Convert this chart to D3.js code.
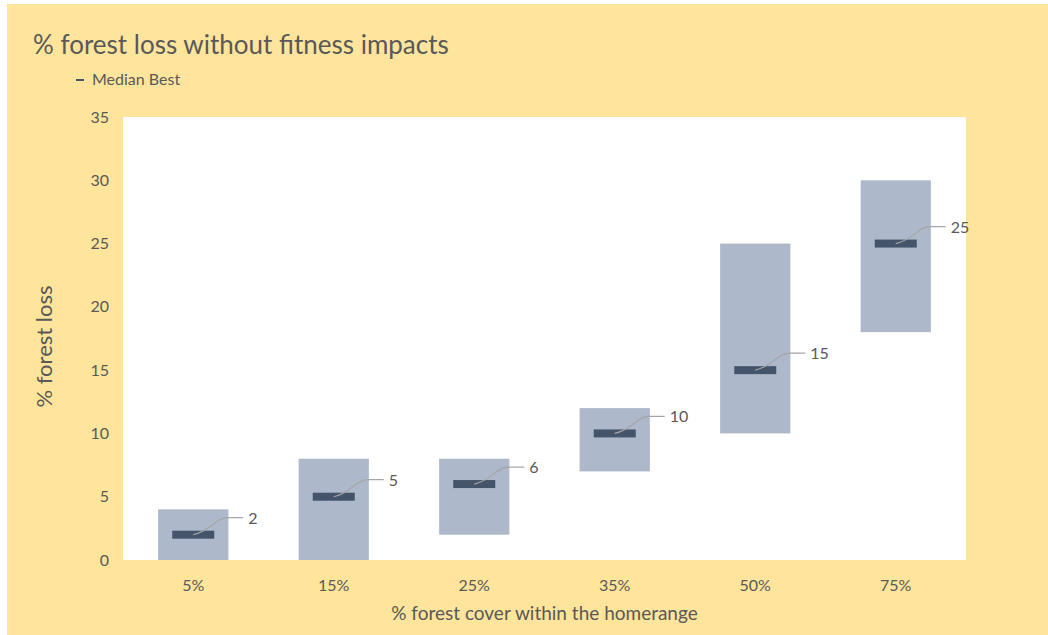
<!DOCTYPE html>
<html>
<head>
<meta charset="utf-8">
<script src="https://cdn.jsdelivr.net/npm/d3@7"></script>
<style>
  html, body { margin: 0; padding: 0; background: #ffffff; }
  svg { display: block; }
  text { font-family: Lato, "Open Sans", sans-serif; }
</style>
</head>
<body>
<svg id="chart" width="1048" height="635"></svg>
<script>
const categories = ["5%", "15%", "25%", "35%", "50%", "75%"];
const rangeLow   = [0, 0, 2, 7, 10, 18];
const rangeHigh  = [4, 8, 8, 12, 25, 30];
const medianBest = [2, 5, 6, 10, 15, 25];
const yTicks     = [0, 5, 10, 15, 20, 25, 30, 35];

const W = 1048, H = 635;
const svg = d3.select("#chart");
const textColor = "#595959";

// background
svg.append("rect").attr("x", 7).attr("y", 4).attr("width", W - 7).attr("height", H - 4).attr("fill", "#fee59b");

const plot = { left: 123, right: 966, top: 117, bottom: 560 };
svg.append("rect").attr("x", plot.left).attr("y", plot.top)
  .attr("width", plot.right - plot.left).attr("height", plot.bottom - plot.top).attr("fill", "#ffffff");

const x = d3.scaleBand().domain(categories).range([plot.left, plot.right]).paddingInner(0.5).paddingOuter(0.25);
const y = d3.scaleLinear().domain([0, 35]).range([plot.bottom, plot.top]);

// title
svg.append("text").attr("x", 33).attr("y", 54).attr("font-size", 26).attr("fill", textColor)
  .text("% forest loss without fitness impacts");

// legend
svg.append("line").attr("x1", 76).attr("x2", 84).attr("y1", 80).attr("y2", 80)
  .attr("stroke", "#44546a").attr("stroke-width", 2);
svg.append("text").attr("x", 92).attr("y", 85).attr("font-size", 16).attr("fill", textColor).text("Median Best");

// axes
const yAxis = d3.axisLeft(y).tickValues(yTicks).tickSize(0).tickPadding(14);
const gy = svg.append("g").attr("transform", `translate(${plot.left},0)`).call(yAxis);
gy.select(".domain").remove();
gy.selectAll("text").attr("font-size", 16).attr("fill", textColor).attr("font-family", "Lato, 'Open Sans', sans-serif");

const xAxis = d3.axisBottom(x).tickSize(0).tickPadding(20);
const gx = svg.append("g").attr("transform", `translate(0,${plot.bottom})`).call(xAxis);
gx.select(".domain").remove();
gx.selectAll("text").attr("font-size", 16).attr("fill", textColor).attr("font-family", "Lato, 'Open Sans', sans-serif");

// axis titles
svg.append("text").attr("x", (plot.left + plot.right) / 2).attr("y", 620).attr("text-anchor", "middle")
  .attr("font-size", 19).attr("fill", textColor).text("% forest cover within the homerange");
svg.append("text").attr("transform", `translate(52,${(plot.top + plot.bottom) / 2 + 8}) rotate(-90)`)
  .attr("text-anchor", "middle").attr("font-size", 22).attr("fill", textColor).text("% forest loss");

// range bars
const data = categories.map((c, i) => ({ c, lo: rangeLow[i], hi: rangeHigh[i], m: medianBest[i] }));
svg.append("g").selectAll("rect").data(data).join("rect")
  .attr("x", d => x(d.c)).attr("width", x.bandwidth())
  .attr("y", d => y(d.hi)).attr("height", d => y(d.lo) - y(d.hi))
  .attr("fill", "#adb9ca");

// median markers
const mw = 42, mh = 8;
svg.append("g").selectAll("rect").data(data).join("rect")
  .attr("x", d => x(d.c) + x.bandwidth() / 2 - mw / 2).attr("width", mw)
  .attr("y", d => y(d.m) - mh / 2).attr("height", mh)
  .attr("fill", "#44546a");

// leader lines + labels
const ldx = 50, ldy = -17;
const lg = svg.append("g");
data.forEach(d => {
  const cx = x(d.c) + x.bandwidth() / 2, cy = y(d.m);
  const ex = cx + ldx, ey = cy + ldy;
  lg.append("path")
    .attr("d", `M${cx},${cy} C${cx + 18},${cy - 4} ${ex - 28},${ey} ${ex - 16},${ey} L${ex},${ey}`)
    .attr("fill", "none").attr("stroke", "#a6a6a6").attr("stroke-width", 1.2);
  lg.append("text").attr("x", ex + 5).attr("y", ey + 6).attr("font-size", 16).attr("fill", textColor).text(d.m);
});
</script>
</body>
</html>
